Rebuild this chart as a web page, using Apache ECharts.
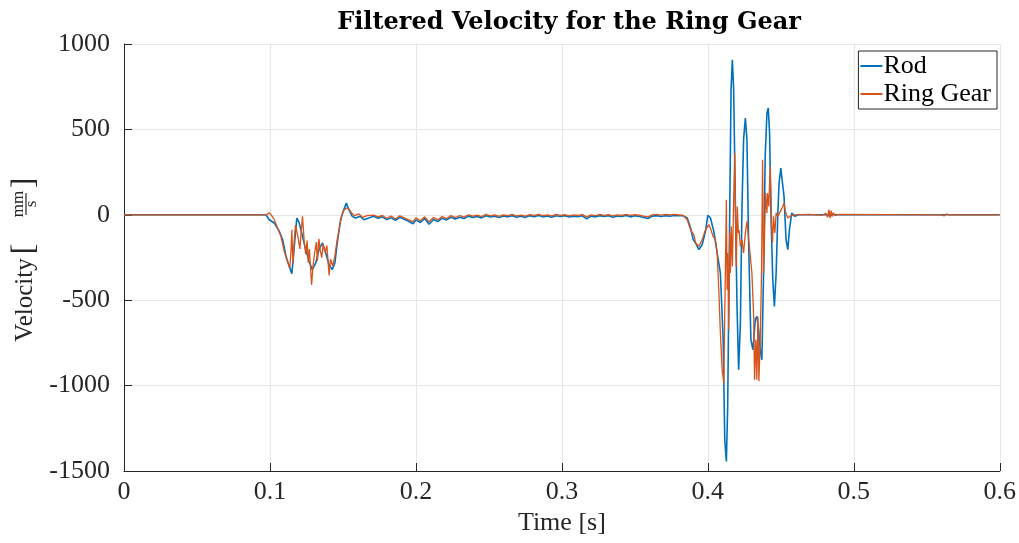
<!DOCTYPE html>
<html>
<head>
<meta charset="utf-8">
<script src="https://cdn.jsdelivr.net/npm/echarts@6/dist/echarts.min.js"></script>
<style>
html,body{margin:0;padding:0;background:#fff;}
#chart{width:1019px;height:543px;}
</style>
</head>
<body>
<div id="chart"></div>
<script>
// ---- Data ----
const seriesNames = ['Rod', 'Ring Gear'];
const xTickLabels = ['0', '0.1', '0.2', '0.3', '0.4', '0.5', '0.6'];
const yTickLabels = ['-1500', '-1000', '-500', '0', '500', '1000'];

const rodT = [
  0, 0.0973, 0.0995, 0.103, 0.1064, 0.1087, 0.111, 0.1132, 0.115, 0.1166, 0.1184, 0.12, 0.1223, 0.1245,
  0.1268, 0.129, 0.1314, 0.1336, 0.1359, 0.1382, 0.1405, 0.1427, 0.1445, 0.1461, 0.1484, 0.1502, 0.1523,
  0.1541, 0.1564, 0.1586, 0.162, 0.1643, 0.1677,
  0.171, 0.174, 0.177, 0.180, 0.183, 0.186, 0.189, 0.192, 0.195, 0.198, 0.200, 0.203, 0.206, 0.209, 0.212,
  0.215, 0.218, 0.221, 0.224, 0.227, 0.230, 0.233, 0.236, 0.239, 0.242, 0.245, 0.248, 0.251, 0.254, 0.257,
  0.260, 0.263, 0.266, 0.269, 0.272, 0.275, 0.278, 0.281, 0.284, 0.287, 0.290, 0.293, 0.296, 0.299, 0.302,
  0.305, 0.308, 0.311, 0.314, 0.317, 0.320, 0.323, 0.326, 0.329, 0.332, 0.335, 0.338, 0.341, 0.344, 0.347,
  0.350, 0.353, 0.356, 0.359, 0.362, 0.365, 0.368, 0.371, 0.374, 0.377, 0.380, 0.383,
  0.3859, 0.3882, 0.39, 0.3916, 0.3939, 0.3961, 0.3984, 0.4, 0.4018, 0.4041, 0.4064, 0.4086, 0.4105,
  0.4116, 0.4127, 0.4136, 0.4148, 0.4159, 0.4168, 0.4177, 0.4189, 0.42, 0.4211, 0.4223, 0.4234, 0.4245,
  0.4257, 0.4268, 0.4279, 0.4295, 0.4309, 0.4325, 0.4336, 0.4348, 0.4359, 0.437, 0.4382, 0.4393, 0.4405,
  0.4414, 0.4423, 0.4434, 0.4445, 0.4456, 0.4468, 0.4479, 0.4488, 0.45, 0.4511, 0.4522, 0.4536, 0.4548,
  0.4559, 0.4575, 0.4597, 0.462, 0.482, 0.483, 0.484, 0.485, 0.487, 0.6
];
const rodV = [
  0, 0, -29, -48, -97, -146, -243, -302, -345, -193, -19, -46, -126, -204,
  -273, -321, -282, -204, -165, -224, -292, -321, -282, -165, -29, 20, 69,
  30, -9, -19, -9, -29, -19,
  -8, -20, -12, -28, -18, -32, -15, -26, -38, -52, -30, -45, -22, -55, -28,
  -40, -20, -30, -15, -25, -14, -22, -8, -15, -10, -18, -6, -13, -8, -16,
  -7, -12, -5, -14, -9, -15, -6, -11, -4, -12, -7, -14, -6, -10, -5,
  -13, -8, -11, -6, -24, -8, -12, -5, -10, -6, -14, -7, -10, -4, -12,
  -6, -9, -16, -22, -8, -5, -10, -6, -8, -4, -6, -5,
  -19, -78, -146, -165, -204, -175, -97, -3, -19, -97, -224, -341, -731,
  -1317, -1444, -1122, -146, 732, 908, 732, 49, -536, -907, -633, 49, 440,
  567, 440, -146, -731, -790, -614, -595, -673, -790, -849, -341, 342, 596,
  625, 479, -48, -380, -536, -341, -9, 186, 274, 264, 108, -146, -204,
  -87, 10, -9, 0, 0, 8, -8, 5, 0, 0
];

const ringT = [
  0, 0.0975, 0.0995, 0.1012, 0.103, 0.1052, 0.1075, 0.1098, 0.112, 0.1136, 0.1145, 0.115, 0.1155, 0.1159,
  0.1166, 0.1175, 0.119, 0.1205, 0.1215, 0.1223, 0.1235, 0.1245, 0.1255, 0.1262, 0.127, 0.1285, 0.1295,
  0.1305, 0.1318, 0.1325, 0.1335, 0.1345, 0.1355, 0.1365, 0.1378, 0.139, 0.1405, 0.1415, 0.143, 0.1445,
  0.146, 0.1475, 0.149, 0.1505, 0.1523, 0.1541, 0.156, 0.158, 0.161, 0.1635, 0.1665,
  0.171, 0.174, 0.177, 0.180, 0.183, 0.186, 0.189, 0.192, 0.195, 0.198, 0.200, 0.203, 0.206, 0.209, 0.212,
  0.215, 0.218, 0.221, 0.224, 0.227, 0.230, 0.233, 0.236, 0.239, 0.242, 0.245, 0.248, 0.251, 0.254, 0.257,
  0.260, 0.263, 0.266, 0.269, 0.272, 0.275, 0.278, 0.281, 0.284, 0.287, 0.290, 0.293, 0.296, 0.299, 0.302,
  0.305, 0.308, 0.311, 0.314, 0.317, 0.320, 0.323, 0.326, 0.329, 0.332, 0.335, 0.338, 0.341, 0.344, 0.347,
  0.350, 0.353, 0.356, 0.359, 0.362, 0.365, 0.368, 0.371, 0.374, 0.377, 0.380, 0.383,
  0.3859, 0.3882, 0.3905, 0.3916, 0.3939, 0.3961, 0.3984, 0.4007, 0.4018, 0.4036, 0.4052, 0.4064, 0.4075,
  0.4086, 0.4098, 0.4109, 0.412, 0.4127, 0.4132, 0.4136, 0.4143, 0.415, 0.4154, 0.4161, 0.4168, 0.4177,
  0.4184, 0.4189, 0.4195, 0.4202, 0.4209, 0.4214, 0.4223, 0.4234, 0.4245, 0.4257, 0.4268, 0.4279, 0.4291,
  0.4302, 0.4314, 0.432, 0.4329, 0.4336, 0.4343, 0.435, 0.4359, 0.4368, 0.4375, 0.4382, 0.4389, 0.4395,
  0.4405, 0.4409, 0.4418, 0.4427, 0.4437, 0.4443, 0.445, 0.4459, 0.4468, 0.4479, 0.4491, 0.45, 0.4514,
  0.4522, 0.4534, 0.4548, 0.4563, 0.4586, 0.47, 0.478, 0.481, 0.482, 0.483, 0.4838, 0.4845, 0.4852,
  0.486, 0.487, 0.49, 0.56, 0.562, 0.5635, 0.565, 0.6
];
const ringV = [
  0, 0, 12, -5, -29, -78, -126, -214, -273, -312, -200, -87, -230, -282,
  -150, -60, -120, -200, -90, -9, -160, -230, -150, -280, -200, -410, -300,
  -230, -160, -270, -140, -210, -250, -170, -220, -180, -355, -260, -300, -240,
  -150, -80, -10, 25, 40, 35, 10, -5, 5, -15, -5,
  -2, -12, -4, -20, -8, -25, -6, -18, -30, -40, -18, -35, -12, -42, -15,
  -30, -10, -22, -5, -16, -4, -14, 0, -8, -2, -10, 2, -6, -1, -9,
  0, -5, 2, -7, -2, -8, 1, -4, 3, -5, 0, -6, 2, -3, 1,
  -6, -1, -4, 1, -12, 0, -5, 2, -3, 1, -6, 0, -3, 3, -4,
  1, -2, -8, -12, 0, 3, -2, 2, -1, 3, 0, -3,
  -29, -88, -117, -165, -185, -146, -88, -58, -78, -127, -146, -224, -439,
  -692, -907, -985, -341, 88, -439, -224, -673, -107, -341, -68, -302, 88,
  362, 49, -302, 49, -107, -90, -185, -146, -224, -107, -39, -29, -243,
  -341, -595, -966, -731, -966, -595, -975, -731, -341, 323, -341, -107, 127,
  10, 127, 49, 283, -68, -165, -9, -107, 10, -9, 10, 5, 49,
  68, 10, -19, -9, 0, 2, -3, 8, -15, 30, -20, 25, -10,
  12, -5, 2, 0, -6, 5, 0, 0
];

const colors = ['#0072BD', '#D95319'];
const serifFont = 'Liberation Serif';
const textColor = '#262626';

const chart = echarts.init(document.getElementById('chart'), null, {renderer: 'canvas'});

const pairs = (t, v) => t.map((x, i) => [x, v[i]]);

chart.setOption({
  animation: false,
  backgroundColor: '#ffffff',
  title: {
    text: 'Filtered Velocity for the Ring Gear',
    left: 564, top: 6, textAlign: 'center',
    textStyle: {fontFamily: 'DejaVu Serif', fontWeight: 'bold', fontSize: 24, color: '#000'}
  },
  grid: {left: 124, right: 15, top: 44, bottom: 72, containLabel: false},
  legend: {
    right: 22, top: 51, orient: 'vertical',
    backgroundColor: '#ffffff', borderColor: textColor, borderWidth: 1, borderRadius: 0,
    padding: [2, 6, 2, 2], itemGap: 2, itemWidth: 22, itemHeight: 2, icon: 'rect',
    textStyle: {fontFamily: serifFont, fontSize: 26, color: '#000', padding: [0, 0, 0, -4]},
    data: seriesNames
  },
  xAxis: {
    type: 'value', min: 0, max: 0.6, interval: 0.1,
    name: 'Time [s]', nameLocation: 'middle', nameGap: 38,
    nameTextStyle: {fontFamily: serifFont, fontSize: 26, color: textColor},
    axisLine: {show: true, onZero: false, lineStyle: {color: textColor, width: 1}},
    axisTick: {show: true, inside: true, length: 8, lineStyle: {color: textColor}},
    axisLabel: {
      fontFamily: serifFont, fontSize: 26, color: textColor, margin: 8,
      formatter: (v) => xTickLabels[Math.round(v / 0.1)]
    },
    splitLine: {show: true, lineStyle: {color: '#e6e6e6', width: 1}}
  },
  yAxis: {
    type: 'value', min: -1500, max: 1000, interval: 500,
    axisLine: {show: true, onZero: false, lineStyle: {color: textColor, width: 1}},
    axisTick: {show: true, inside: true, length: 8, lineStyle: {color: textColor}},
    axisLabel: {
      fontFamily: serifFont, fontSize: 26, color: textColor, margin: 14,
      formatter: (v) => yTickLabels[Math.round((v + 1500) / 500)]
    },
    splitLine: {show: true, lineStyle: {color: '#e6e6e6', width: 1}}
  },
  graphic: [
    {type: 'text', x: 25, y: 300, rotation: Math.PI / 2,
     style: {text: 'Velocity', font: '25px "Liberation Serif"', fill: textColor, align: 'center', verticalAlign: 'middle'}},
    {type: 'text', x: 25, y: 249, rotation: Math.PI / 2,
     style: {text: '[', font: '32px "Liberation Serif"', fill: textColor, align: 'center', verticalAlign: 'middle'}},
    {type: 'text', x: 19, y: 204, rotation: Math.PI / 2,
     style: {text: 'mm', font: '17px "Liberation Serif"', fill: textColor, align: 'center', verticalAlign: 'middle'}},
    {type: 'line', shape: {x1: 26, y1: 193, x2: 26, y2: 215},
     style: {stroke: textColor, lineWidth: 1.2}},
    {type: 'text', x: 32, y: 204, rotation: Math.PI / 2,
     style: {text: 's', font: '17px "Liberation Serif"', fill: textColor, align: 'center', verticalAlign: 'middle'}},
    {type: 'text', x: 25, y: 183, rotation: Math.PI / 2,
     style: {text: ']', font: '32px "Liberation Serif"', fill: textColor, align: 'center', verticalAlign: 'middle'}}
  ],
  series: [
    {name: seriesNames[0], type: 'line', data: pairs(rodT, rodV), showSymbol: false, symbol: 'none',
     color: colors[0], lineStyle: {color: colors[0], width: 1.6}, z: 2},
    {name: seriesNames[1], type: 'line', data: pairs(ringT, ringV), showSymbol: false, symbol: 'none',
     color: colors[1], lineStyle: {color: colors[1], width: 1.3}, z: 3}
  ]
});
</script>
</body>
</html>
